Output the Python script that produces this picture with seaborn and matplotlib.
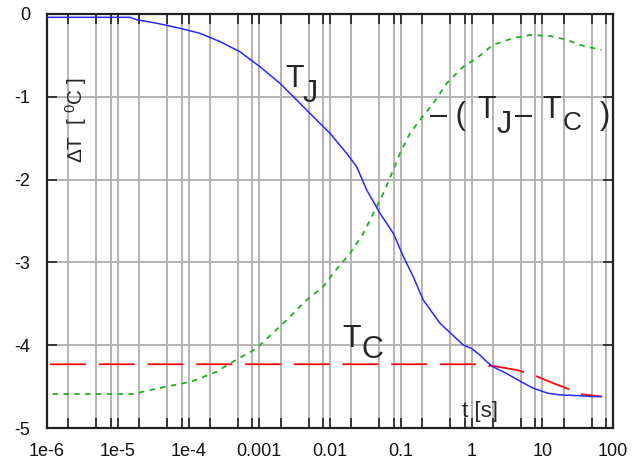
import numpy as np
import pandas as pd
import matplotlib
matplotlib.use("Agg")
import matplotlib.pyplot as plt
from matplotlib.ticker import FixedLocator, FixedFormatter, NullFormatter
import seaborn as sns

# Junction temperature change T_J
t_j = [1e-6, 1.5e-5, 1.85e-5, 3.5e-5, 7.6e-5, 1.45e-4, 2.79e-4, 5.3e-4, 1.02e-3,
       1.96e-3, 3.38e-3, 5.8e-3, 0.01, 0.0172, 0.0238, 0.033, 0.0509, 0.0785,
       0.109, 0.150, 0.208, 0.359, 0.766, 1.0, 1.32, 1.64, 2.0, 3.1, 5.0, 7.5,
       12.0, 17.8, 34, 50, 69]
dT_j = [-0.04, -0.04, -0.07, -0.11, -0.173, -0.233, -0.334, -0.455, -0.636,
        -0.837, -1.039, -1.24, -1.441, -1.683, -1.844, -2.126, -2.407, -2.649,
        -2.931, -3.172, -3.454, -3.736, -3.998, -4.04, -4.12, -4.20, -4.26,
        -4.34, -4.44, -4.52, -4.58, -4.60, -4.61, -4.62, -4.62]

# Case temperature change T_C
t_c = [1.1e-6, 1.2, 1.5, 2.0, 4.4, 7.5, 14.4, 22, 34, 69]
dT_c = [-4.23, -4.23, -4.25, -4.25, -4.30, -4.36, -4.46, -4.52, -4.59, -4.62]

# -(T_J - T_C)
t_d = [1.2e-6, 1.66e-5, 2.3e-5, 4.9e-5, 1.1e-4, 2.5e-4, 3.86e-4, 9.2e-4, 2.44e-3,
       4.68e-3, 8.05e-3, 0.0111, 0.0192, 0.0296, 0.041, 0.0566, 0.0785, 0.0975,
       0.135, 0.187, 0.289, 0.446, 0.766, 1.18, 2.0, 3.9, 6.7, 12.9, 22, 34, 69]
dT_d = [-4.59, -4.59, -4.56, -4.50, -4.44, -4.32, -4.22, -4.037, -3.696,
        -3.454, -3.293, -3.132, -2.89, -2.649, -2.407, -2.166, -1.884, -1.683,
        -1.441, -1.28, -1.079, -0.837, -0.636, -0.535, -0.374, -0.29, -0.254,
        -0.266, -0.31, -0.374, -0.435]

x_ticks = [1e-6, 1e-5, 1e-4, 1e-3, 1e-2, 1e-1, 1, 10, 100]
x_labels = ["1e-6", "1e-5", "1e-4", "0.001", "0.01", "0.1", "1", "10", "100"]
y_ticks = [0, -1, -2, -3, -4, -5]
y_labels = ["0", "-1", "-2", "-3", "-4", "-5"]

sns.set_style("white")
plt.rcParams["font.family"] = ["Liberation Sans", "DejaVu Sans"]
plt.rcParams["mathtext.fontset"] = "custom"
plt.rcParams["mathtext.rm"] = "Liberation Sans"
plt.rcParams["mathtext.it"] = "Liberation Sans:italic"
plt.rcParams["axes.unicode_minus"] = False

fig = plt.figure(figsize=(6.39, 4.66), dpi=100)
ax = fig.add_axes([47 / 639, 1 - 428 / 466, 566 / 639, 414 / 466])

df_j = pd.DataFrame({"t": t_j, "dT": dT_j})
df_c = pd.DataFrame({"t": t_c, "dT": dT_c})
df_d = pd.DataFrame({"t": t_d, "dT": dT_d})

sns.lineplot(data=df_j, x="t", y="dT", ax=ax, color="#2828ff", lw=1.1,
             sort=False, estimator=None, zorder=4)
sns.lineplot(data=df_c, x="t", y="dT", ax=ax, color="#ff0a0a", lw=1.3,
             sort=False, estimator=None, zorder=3)
ax.lines[-1].set_dashes((20, 7))
sns.lineplot(data=df_d, x="t", y="dT", ax=ax, color="#1eb01e", lw=1.3,
             sort=False, estimator=None, zorder=3)
ax.lines[-1].set_dashes((3, 3))

ax.set_xscale("log")
ax.set_xlim(1e-6, 100)
ax.set_ylim(-5, 0)

minor = [m * d for d in x_ticks[:-1] for m in (2, 5, 8)]
ax.xaxis.set_major_locator(FixedLocator(x_ticks))
ax.xaxis.set_major_formatter(FixedFormatter(x_labels))
ax.xaxis.set_minor_locator(FixedLocator(minor))
ax.xaxis.set_minor_formatter(NullFormatter())
ax.yaxis.set_major_locator(FixedLocator(y_ticks))
ax.yaxis.set_major_formatter(FixedFormatter(y_labels))
ax.yaxis.set_minor_locator(FixedLocator([]))

ax.grid(True, which="both", axis="x", color="#b4b4b4", lw=1.4)
ax.grid(True, which="major", axis="y", color="#b4b4b4", lw=1.4)
ax.set_axisbelow(True)

ax.tick_params(which="both", direction="in", length=7, width=1.2, color="#222222",
               top=True, right=True, bottom=True, left=True, labelsize=13,
               labelcolor="#111111")
ax.tick_params(axis="x", pad=11)
ax.tick_params(axis="y", pad=12)
for s in ax.spines.values():
    s.set_color("#222222")
    s.set_linewidth(1.6)

ax.set_xlabel("")
ax.set_ylabel("")

big = 22
ax.text(2.31e-3, -0.88, "T", fontsize=big, ha="left", va="baseline")
ax.text(4.15e-3, -1.063, "J", fontsize=big, ha="left", va="baseline")

ax.text(0.259, -1.33, "\u2013 (", fontsize=big, ha="left", va="baseline")
ax.text(1.2, -1.256, "T", fontsize=big, ha="left", va="baseline")
ax.text(2.29, -1.437, "J", fontsize=big, ha="left", va="baseline")
ax.text(4.12, -1.33, "\u2013", fontsize=big, ha="left", va="baseline")
ax.text(9.9, -1.256, "T", fontsize=big, ha="left", va="baseline")
ax.text(19.6, -1.40, "C", fontsize=19, ha="left", va="baseline")
ax.text(65.5, -1.33, ")", fontsize=big, ha="left", va="baseline")

ax.text(0.0148, -4.02, "T", fontsize=big, ha="left", va="baseline")
ax.text(0.0283, -4.155, "C", fontsize=big, ha="left", va="baseline")

ax.text(1.32, -4.8, "t [s]", fontsize=16, ha="center", va="center")
ax.text(2.57e-6, -1.28, r"$\mathit{\Delta}$T  [ $^{0}$C ]", fontsize=15,
        ha="center", va="center", rotation=90)

fig.savefig("out.png", dpi=100)
